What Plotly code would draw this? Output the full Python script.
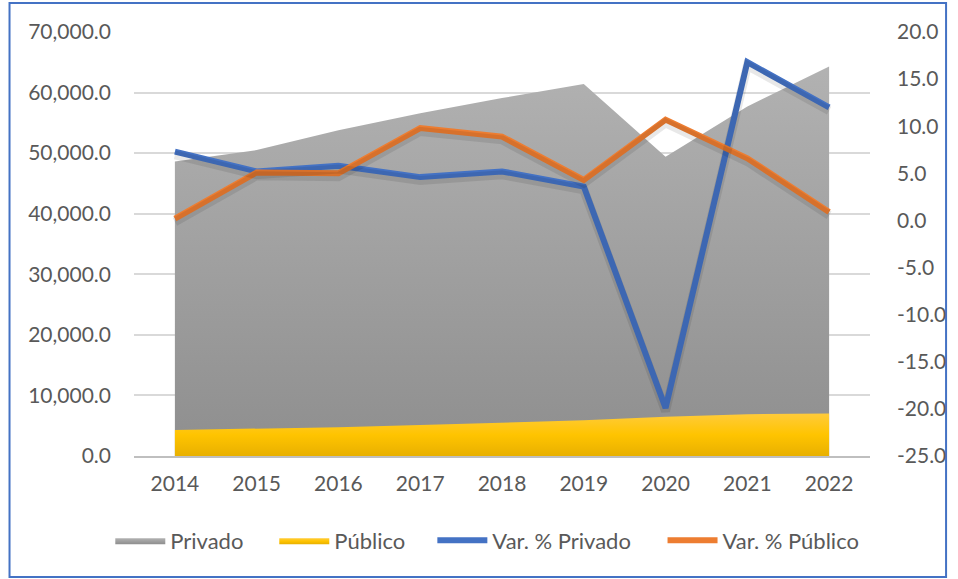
import plotly.graph_objects as go

# Datos
anios = ['2014', '2015', '2016', '2017', '2018', '2019', '2020', '2021', '2022']
privado = [48600, 50500, 53800, 56600, 59100, 61400, 49400, 57700, 64300]
publico = [4300, 4500, 4750, 5100, 5550, 5900, 6500, 6900, 7000]
var_privado = [7.3, 5.2, 5.8, 4.6, 5.2, 3.6, -19.9, 16.8, 12.0]
var_publico = [0.2, 5.1, 5.0, 9.8, 8.9, 4.3, 10.7, 6.6, 0.9]

ticks_izq = [0, 10000, 20000, 30000, 40000, 50000, 60000, 70000]
ticks_izq_txt = ['0.0', '10,000.0', '20,000.0', '30,000.0', '40,000.0', '50,000.0', '60,000.0', '70,000.0']
ticks_der = [-25, -20, -15, -10, -5, 0, 5, 10, 15, 20]
ticks_der_txt = ['-25.0', '-20.0', '-15.0', '-10.0', '-5.0', '0.0', '5.0', '10.0', '15.0', '20.0']

gris_txt = '#595959'
fuente = dict(family='Lato, Liberation Sans, sans-serif', size=21, color=gris_txt)

fig = go.Figure()

# Áreas
fig.add_trace(go.Scatter(
    x=anios, y=privado, name='Privado', mode='lines', fill='tozeroy',
    line=dict(width=0, color='#a0a0a0'), legend='legend',
    fillgradient=dict(type='vertical', start=0, stop=65000,
                      colorscale=[[0, '#8e8e8e'], [1, '#b2b2b2']]),
))
fig.add_trace(go.Scatter(
    x=anios, y=publico, name='Público', mode='lines', fill='tozeroy',
    line=dict(width=0, color='#ffc000'), legend='legend2',
    fillgradient=dict(type='vertical', start=0, stop=7000,
                      colorscale=[[0, '#e8b000'], [0.5, '#ffc400'], [1, '#ffcb3a']]),
))

# Sombra suave de las líneas (eje auxiliar desplazado unos píxeles)
for serie in (var_privado, var_publico):
    fig.add_trace(go.Scatter(
        x=anios, y=serie, mode='lines', yaxis='y3', showlegend=False, hoverinfo='skip',
        line=dict(width=9, color='rgba(0,0,0,0.09)'),
    ))

# Líneas de variación (eje derecho)
fig.add_trace(go.Scatter(
    x=anios, y=var_privado, name='Var. % Privado', mode='lines', yaxis='y2',
    line=dict(width=6, color='#4472C4'), legend='legend3',
))
fig.add_trace(go.Scatter(
    x=anios, y=var_publico, name='Var. % Público', mode='lines', yaxis='y2',
    line=dict(width=6, color='#ED7D31'), legend='legend4',
))

leyenda = dict(orientation='h', xanchor='left', y=-0.199, yanchor='middle',
               font=dict(size=22, color=gris_txt), itemwidth=50,
               bgcolor='rgba(0,0,0,0)')

fig.update_layout(
    width=958, height=579,
    margin=dict(l=134, r=79, t=32, b=123),
    paper_bgcolor='white', plot_bgcolor='white',
    font=fuente,
    showlegend=True,
    legend=dict(leyenda, x=(110 - 134) / 745),
    legend2=dict(leyenda, x=(276 - 134) / 745),
    legend3=dict(leyenda, x=(436 - 134) / 745),
    legend4=dict(leyenda, x=(669 - 134) / 745),
    xaxis=dict(type='category', range=[-0.5, 8.5], showgrid=False,
               showline=True, linecolor='#bfbfbf', linewidth=1.5,
               ticks='', tickfont=dict(size=21, color=gris_txt), ticklabelstandoff=8),
    yaxis=dict(range=[0, 70000], tickvals=ticks_izq, ticktext=ticks_izq_txt,
               showgrid=True, gridcolor='#d9d9d9', gridwidth=1.5,
               zeroline=False, showline=False, ticks='',
               tickfont=dict(size=21, color=gris_txt), ticklabelstandoff=22),
    yaxis2=dict(range=[-25, 20], tickvals=ticks_der, ticktext=ticks_der_txt,
                overlaying='y', side='right', showgrid=False, zeroline=False,
                showline=False, ticks='',
                tickfont=dict(size=21, color=gris_txt), ticklabelstandoff=26),
    yaxis3=dict(range=[-24.65, 20.35], overlaying='y', side='right', visible=False),
    shapes=[dict(type='rect', xref='paper', yref='paper',
                 x0=(8 - 134) / 745, x1=(956 - 134) / 745,
                 y0=(456 - 577) / 424, y1=(456 - 3) / 424,
                 line=dict(color='#4472C4', width=2), layer='below')],
)

fig.write_html("out.html", config={'displayModeBar': False},
               post_script="document.body.style.margin='0';")
